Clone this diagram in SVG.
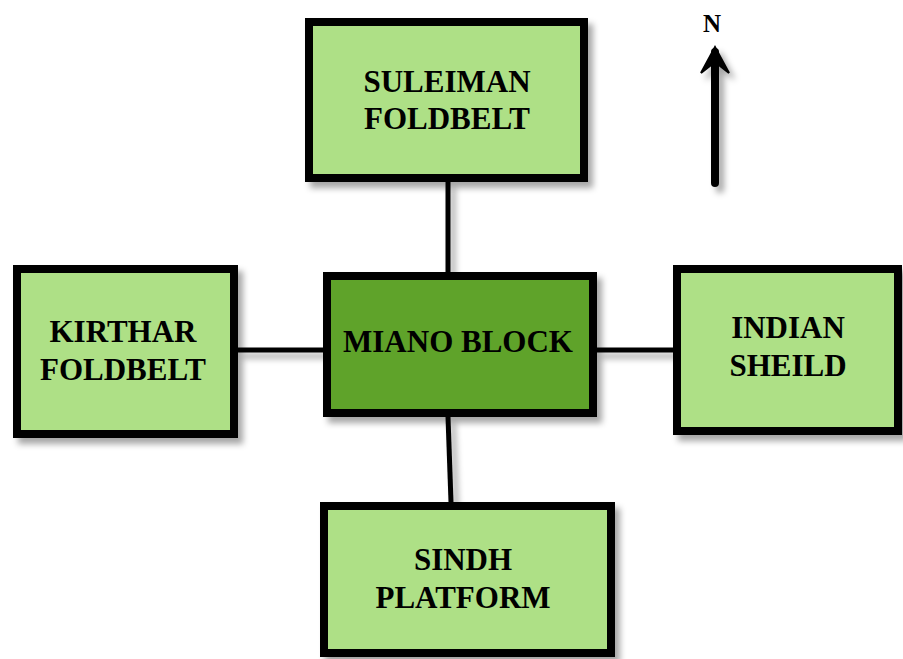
<svg xmlns="http://www.w3.org/2000/svg" width="903" height="659" viewBox="0 0 903 659">
<defs>
<filter id="sh" x="-10%" y="-10%" width="130%" height="130%">
<feDropShadow dx="5" dy="6" stdDeviation="3" flood-color="#000" flood-opacity="0.35"/>
</filter>
<filter id="shu" filterUnits="userSpaceOnUse" x="0" y="0" width="903" height="659">
<feDropShadow dx="5" dy="6" stdDeviation="3" flood-color="#000" flood-opacity="0.35"/>
</filter>
<style>
.box{fill:#AEE086;stroke:#000;stroke-width:8;filter:url(#sh)}
.main{fill:#5EA32B}
.lbl{font-family:"Liberation Serif","Times New Roman",serif;font-weight:bold;font-size:31px;fill:#000;text-anchor:middle}
.con{stroke:#000;stroke-width:5;fill:none}
</style>
</defs>
<rect width="903" height="659" fill="#fff"/>
<g id="connectors" filter="url(#shu)">
<line class="con" x1="448" y1="182" x2="448" y2="272"/>
<line class="con" x1="448" y1="417" x2="451" y2="502"/>
<line class="con" x1="238" y1="350" x2="323" y2="350"/>
<line class="con" x1="597" y1="350" x2="673" y2="350"/>
</g>
<g id="suleiman">
<rect class="box" x="309" y="22" width="275" height="156"/>
<text class="lbl" x="447" y="92">SULEIMAN</text>
<text class="lbl" x="447" y="129">FOLDBELT</text>
</g>
<g id="miano">
<rect class="box main" x="327" y="276" width="266" height="137"/>
<text class="lbl" x="458" y="352">MIANO BLOCK</text>
</g>
<g id="kirthar">
<rect class="box" x="17" y="269" width="217" height="165"/>
<text class="lbl" x="123" y="342">KIRTHAR</text>
<text class="lbl" x="123" y="380">FOLDBELT</text>
</g>
<g id="indian">
<rect class="box" x="677" y="269" width="221" height="162"/>
<text class="lbl" x="788" y="338">INDIAN</text>
<text class="lbl" x="788" y="376">SHEILD</text>
</g>
<g id="sindh">
<rect class="box" x="324" y="506" width="287" height="147"/>
<text class="lbl" x="463" y="570">SINDH</text>
<text class="lbl" x="463" y="608">PLATFORM</text>
</g>
<g id="north">
<text x="712" y="32" style="font-family:'Liberation Serif',serif;font-weight:bold;font-size:25px;text-anchor:middle">N</text>
<g filter="url(#shu)">
<line x1="715" y1="52" x2="715" y2="183" stroke="#000" stroke-width="8" stroke-linecap="round"/>
<path d="M701,73 L715,47 L729,73 L715,62 Z" fill="#000" stroke="#000" stroke-width="2" stroke-linejoin="miter"/>
</g>
</g>
</svg>
